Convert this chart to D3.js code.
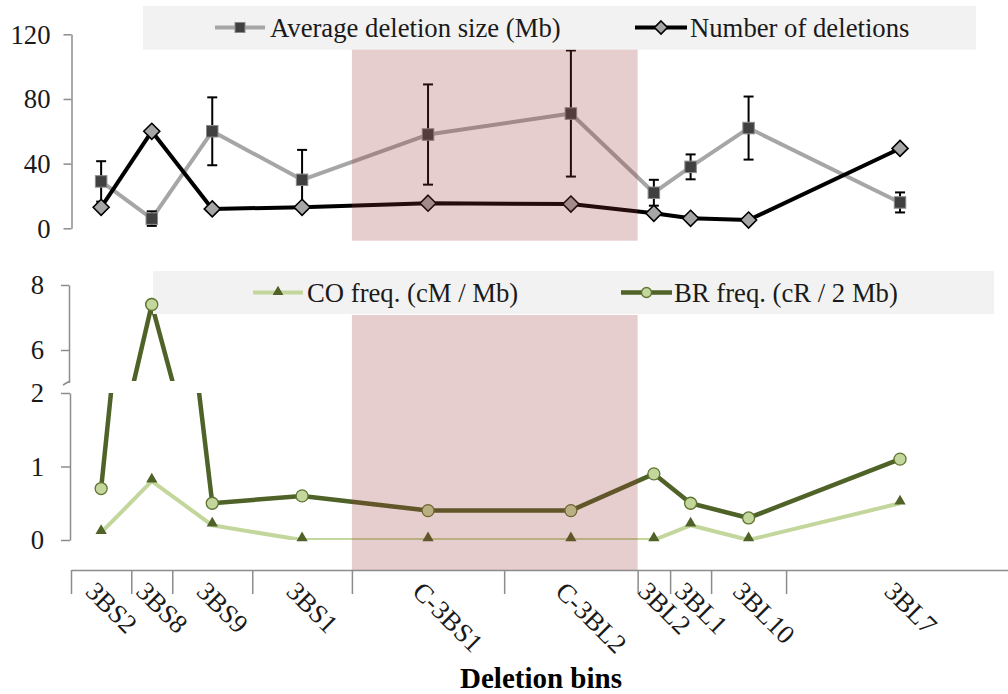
<!DOCTYPE html>
<html>
<head>
<meta charset="utf-8">
<script src="https://cdn.jsdelivr.net/npm/d3@7"></script>
<style>
  html, body { margin: 0; padding: 0; background: #fff; }
  svg { display: block; font-family: "Liberation Serif", "Times New Roman", serif; }
  svg text { font-family: "Liberation Serif", "Times New Roman", serif; }
</style>
</head>
<body>
<svg id="chart" width="1008" height="694"></svg>
<script>
// ---------------- DATA ----------------
const bins = ["3BS2","3BS8","3BS9","3BS1","C-3BS1","C-3BL2","3BL2","3BL1","3BL10","3BL7"];
const binWidths = [60.3, 41, 80, 99.7, 152.3, 133.5, 32.5, 41, 75, 228];
const centromericBins = ["C-3BS1","C-3BL2"];
const avgDeletionSize = [29, 6, 60, 30, 58, 71, 22, 38, 62, 16];
const avgDeletionErr  = [12.5, 4.5, 21, 18.5, 31, 39, 8, 7.7, 19.5, 6.2];
const numDeletions    = [13, 60, 12, 13, 15.5, 15, 9.3, 6.2, 5.1, 49.4];
const coFreq = [0.1, 0.8, 0.2, 0, 0, 0, 0, 0.2, 0, 0.5];
const brFreq = [0.7, 7.4, 0.5, 0.6, 0.4, 0.4, 0.9, 0.5, 0.3, 1.1];
const topTicks = [0, 40, 80, 120];
const lowerTicks = [0, 1, 2];
const upperTicks = [6, 8];
const legendTop = ["Average deletion size (Mb)", "Number of deletions"];
const legendBottom = ["CO freq. (cM / Mb)", "BR freq. (cR / 2 Mb)"];
const xTitle = "Deletion bins";

// ---------------- SETUP ----------------
const svg = d3.select("#chart");
const FONT = 26.7;
const SERIF = "'Liberation Serif', 'Times New Roman', serif";
const AXIS_COLOR = "#8c8c8c";
const TEXT_COLOR = "#1a1a1a";
const fmt = d3.format("d");

const edges = [0];
binWidths.forEach((w, i) => edges.push(edges[i] + w));
const total = edges[edges.length - 1];
const x = d3.scaleLinear().domain([0, total]).range([71, 1014]);
const cx = i => x(edges[i] + binWidths[i] / 2);

const yTop = d3.scaleLinear().domain([0, 120]).range([228.3, 34.3]);
const yLow = d3.scaleLinear().domain([0, 2]).range([540, 393]);
const yUp  = d3.scaleLinear().domain([5, 8]).range([382.5, 285]);

const defs = svg.append("defs");
defs.append("clipPath").attr("id", "clipLow").append("rect")
  .attr("x", 60).attr("y", yLow(2)).attr("width", 960).attr("height", yLow(0) - yLow(2));
defs.append("clipPath").attr("id", "clipUp").append("rect")
  .attr("x", 60).attr("y", 260).attr("width", 960).attr("height", 381 - 260);

function styleAxis(g) {
  g.attr("font-family", SERIF).attr("font-size", FONT);
  g.select(".domain").attr("stroke", AXIS_COLOR).attr("stroke-width", 1.5);
  g.selectAll(".tick line").attr("stroke", AXIS_COLOR).attr("stroke-width", 1.5);
  g.selectAll(".tick text").attr("font-size", FONT).attr("fill", TEXT_COLOR)
    .style("font-family", SERIF);
}

// ---------------- TOP PANEL AXIS ----------------
svg.append("g").attr("transform", "translate(71.5,0)")
  .call(d3.axisLeft(yTop).tickValues(topTicks).tickFormat(fmt).tickSize(8).tickSizeOuter(0).tickPadding(13))
  .call(styleAxis)
  .call(g => g.selectAll(".tick text").attr("dy", "0.33em"));

// ---------------- BOTTOM PANEL AXES ----------------
svg.append("g").attr("transform", "translate(69,0)")
  .call(d3.axisLeft(yUp).tickValues(upperTicks).tickFormat(fmt).tickSize(8).tickSizeOuter(0).tickPadding(17))
  .call(styleAxis)
  .call(g => g.selectAll(".tick text").attr("dy", "0.33em"));
svg.append("line").attr("x1", 69).attr("y1", 381.5).attr("x2", 63).attr("y2", 385)
  .attr("stroke", AXIS_COLOR).attr("stroke-width", 1.5);

svg.append("g").attr("transform", "translate(70,0)")
  .call(d3.axisLeft(yLow).tickValues(lowerTicks).tickFormat(fmt).tickSize(9).tickSizeOuter(0).tickPadding(17))
  .call(styleAxis)
  .call(g => g.selectAll(".tick text").attr("dy", "0.33em"));

// ---------------- X AXIS ----------------
const xAxisY = 570;
svg.append("g").attr("transform", `translate(0,${xAxisY})`)
  .call(d3.axisBottom(x).tickValues(edges.slice(0, -1)).tickSize(24).tickSizeOuter(0).tickFormat(() => ""))
  .call(styleAxis);

svg.append("g").selectAll("text").data(bins).join("text")
  .attr("transform", (d, i) => `translate(${cx(i) - 17},593) rotate(45)`)
  .attr("font-size", FONT).attr("fill", TEXT_COLOR)
  .text(d => d);

svg.append("text").attr("x", 541).attr("y", 688).attr("text-anchor", "middle")
  .attr("font-size", 29).attr("font-weight", "bold").attr("fill", "#000")
  .text(xTitle);

// ---------------- MARKER HELPERS ----------------
const diamondPath = r => `M0,${-r}L${r},0L0,${r}L${-r},0Z`;
function square(g, px, py, s) {
  g.append("rect").attr("x", px - s / 2).attr("y", py - s / 2).attr("width", s).attr("height", s)
    .attr("fill", "#404040").attr("stroke", "#8c8c8c").attr("stroke-width", 1);
}
function diamond(g, px, py, r) {
  g.append("path").attr("d", diamondPath(r)).attr("transform", `translate(${px},${py})`)
    .attr("fill", "#a6a6a6").attr("stroke", "#000").attr("stroke-width", 1.6);
}
function triangle(g, px, py, s) {
  g.append("path").attr("d", d3.symbol(d3.symbolTriangle).size(s)())
    .attr("transform", `translate(${px},${py})`).attr("fill", "#4f6228");
}
function circle(g, px, py, r) {
  g.append("circle").attr("cx", px).attr("cy", py).attr("r", r)
    .attr("fill", "#c3d69b").attr("stroke", "#5f7530").attr("stroke-width", 1.3);
}

// ---------------- TOP PANEL SERIES ----------------
const topPanel = svg.append("g");
const lineTop = d3.line().x((d, i) => cx(i)).y(d => yTop(d));
topPanel.append("path").attr("d", lineTop(avgDeletionSize))
  .attr("fill", "none").attr("stroke", "#a6a6a6").attr("stroke-width", 4).attr("stroke-linejoin", "round");
avgDeletionSize.forEach((v, i) => {
  const e = avgDeletionErr[i];
  const g = topPanel.append("g").attr("stroke", "#000").attr("stroke-width", 2);
  g.append("line").attr("x1", cx(i)).attr("x2", cx(i)).attr("y1", yTop(v + e)).attr("y2", yTop(v - e));
  g.append("line").attr("x1", cx(i) - 5).attr("x2", cx(i) + 5).attr("y1", yTop(v + e)).attr("y2", yTop(v + e));
  g.append("line").attr("x1", cx(i) - 5).attr("x2", cx(i) + 5).attr("y1", yTop(v - e)).attr("y2", yTop(v - e));
});
avgDeletionSize.forEach((v, i) => square(topPanel, cx(i), yTop(v), 11.5));
topPanel.append("path").attr("d", lineTop(numDeletions))
  .attr("fill", "none").attr("stroke", "#000").attr("stroke-width", 4).attr("stroke-linejoin", "round");
numDeletions.forEach((v, i) => diamond(topPanel, cx(i), yTop(v), 8));

// ---------------- BOTTOM PANEL SERIES ----------------
const botPanel = svg.append("g");
const lineLow = d3.line().x((d, i) => cx(i)).y(d => yLow(d));
const lineUp = d3.line().x((d, i) => cx(i)).y(d => yUp(d));
botPanel.append("path").attr("d", lineLow(coFreq)).attr("clip-path", "url(#clipLow)")
  .attr("fill", "none").attr("stroke", "#c3d69b").attr("stroke-width", 4).attr("stroke-linejoin", "round");
coFreq.forEach((v, i) => triangle(botPanel, cx(i), yLow(v) - 2, 55));

botPanel.append("path").attr("d", lineLow(brFreq)).attr("clip-path", "url(#clipLow)")
  .attr("fill", "none").attr("stroke", "#4f6228").attr("stroke-width", 4.5).attr("stroke-linejoin", "round");
botPanel.append("path").attr("d", lineUp(brFreq)).attr("clip-path", "url(#clipUp)")
  .attr("fill", "none").attr("stroke", "#4f6228").attr("stroke-width", 4.5).attr("stroke-linejoin", "round");
brFreq.forEach((v, i) => {
  const py = v > 2 ? yUp(v) : yLow(v);
  circle(botPanel, cx(i), py, 6);
});

// ---------------- CENTROMERIC SHADE ----------------
const cIdx = centromericBins.map(b => bins.indexOf(b));
const sx0 = x(edges[d3.min(cIdx)]), sx1 = x(edges[d3.max(cIdx) + 1]);
const shadeFill = "rgba(153,51,51,0.24)";
svg.append("rect").attr("x", sx0).attr("y", 47.7).attr("width", sx1 - sx0).attr("height", 240.7 - 47.7)
  .attr("fill", shadeFill);
svg.append("rect").attr("x", sx0).attr("y", 315).attr("width", sx1 - sx0).attr("height", xAxisY - 315)
  .attr("fill", shadeFill);

// ---------------- LEGENDS ----------------
svg.append("rect").attr("x", 143).attr("y", 6).attr("width", 976 - 143).attr("height", 49.7 - 6).attr("fill", "#f2f2f2");
const lt = svg.append("g");
lt.append("line").attr("x1", 215).attr("x2", 265).attr("y1", 27.5).attr("y2", 27.5).attr("stroke", "#a6a6a6").attr("stroke-width", 4);
square(lt, 240, 27.5, 10);
lt.append("text").attr("x", 270).attr("y", 37).attr("font-size", FONT).attr("fill", TEXT_COLOR).text(legendTop[0]);
lt.append("line").attr("x1", 635).attr("x2", 687).attr("y1", 27.5).attr("y2", 27.5).attr("stroke", "#000").attr("stroke-width", 4);
diamond(lt, 661, 27.5, 6.5);
lt.append("text").attr("x", 690).attr("y", 37).attr("font-size", FONT).attr("fill", TEXT_COLOR).text(legendTop[1]);

svg.append("rect").attr("x", 153).attr("y", 271).attr("width", 994 - 153).attr("height", 314 - 271).attr("fill", "#f2f2f2");
const lb = svg.append("g");
lb.append("line").attr("x1", 253).attr("x2", 303).attr("y1", 292.5).attr("y2", 292.5).attr("stroke", "#c3d69b").attr("stroke-width", 4);
triangle(lb, 278, 292, 50);
lb.append("text").attr("x", 307).attr("y", 301.5).attr("font-size", FONT).attr("fill", TEXT_COLOR).text(legendBottom[0]);
lb.append("line").attr("x1", 621).attr("x2", 672).attr("y1", 292.5).attr("y2", 292.5).attr("stroke", "#4f6228").attr("stroke-width", 4.5);
circle(lb, 646.5, 292.5, 5);
lb.append("text").attr("x", 674).attr("y", 301.5).attr("font-size", FONT).attr("fill", TEXT_COLOR).text(legendBottom[1]);

// redraw 3BS8 BR marker above legend box (as in reference)
circle(svg, cx(1), yUp(brFreq[1]), 6);
</script>
</body>
</html>
